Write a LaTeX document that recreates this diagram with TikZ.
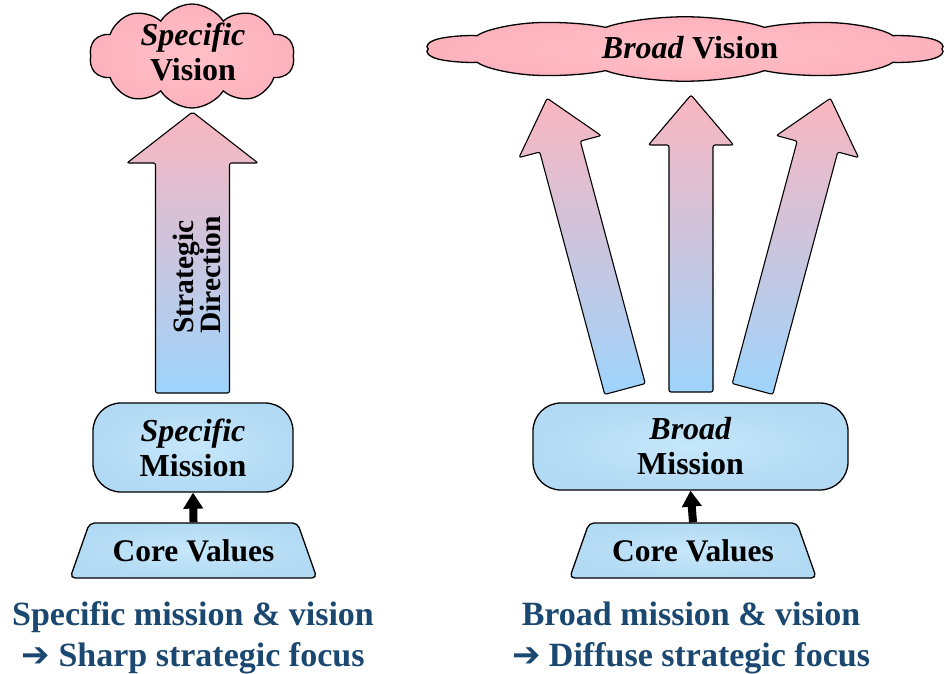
\documentclass[tikz,border=0pt]{standalone}
\usepackage{fontspec}
\setmainfont{Liberation Serif}
\newfontfamily\symfont{DejaVu Sans}
\usetikzlibrary{shapes.symbols,shapes.geometric,arrows.meta}

\definecolor{cloudpink}{RGB}{253,178,188}
\definecolor{cloudpinklight}{RGB}{255,192,200}
\definecolor{boxblue}{RGB}{178,218,244}
\definecolor{boxbluelight}{RGB}{198,231,251}
\definecolor{arrowtop}{RGB}{250,182,192}
\definecolor{arrowbottom}{RGB}{158,212,252}
\definecolor{captionblue}{RGB}{27,72,112}

\tikzset{
  outline/.style={draw=black, line width=1.3pt},
  visioncloud/.style={outline, cloud, cloud puffs=10, cloud puff arc=115,
    cloud ignores aspect, inner sep=0pt, minimum width=205pt, minimum height=104pt,
    inner color=cloudpinklight, outer color=cloudpink},
  missionbox/.style={outline, rectangle, rounded corners=28pt, inner sep=0pt,
    inner color=boxbluelight, outer color=boxblue},
  valuesbox/.style={outline, trapezium, trapezium angle=56,
    trapezium stretches=true, rounded corners=5pt, inner sep=0pt,
    minimum width=247pt, minimum height=55pt,
    inner color=boxbluelight, outer color=boxblue,
    font=\fontsize{31.5}{34}\selectfont\bfseries},
  boxtext/.style={align=center, font=\fontsize{32}{35}\selectfont\bfseries},
  captiontext/.style={align=center, text=captionblue,
    font=\fontsize{34}{41}\selectfont\bfseries},
  linkarrow/.style={line width=8pt, -{Triangle[length=16pt, width=19pt]}},
  arrowbody/.style={outline, line width=1.1pt, rounded corners=2pt,
    top color=arrowtop, bottom color=arrowbottom},
  % broad upward arrow: shaft half width, head half width, length, head length
  pics/fatarrow/.style n args={4}{code={
    \path[arrowbody] (-#1,0) -- (#1,0) -- (#1,-#3+#4) -- (#2,-#3+#4)
      -- (0,-#3) -- (-#2,-#3+#4) -- (-#1,-#3+#4) -- cycle;
  }},
}

\begin{document}
\begin{tikzpicture}[x=1pt, y=-1pt]
\useasboundingbox (0,0) rectangle (950,674);

% ---------- left column: specific mission and vision ----------
\node[visioncloud] (visionL) at (192,56) {};
\node[boxtext] (visionLtext) at (193,52) {\textit{Specific}\\Vision};

\pic at (192.5,393) {fatarrow={37}{65.5}{281}{51}};
\node[boxtext, rotate=90, align=left, font=\fontsize{29.5}{27}\selectfont\bfseries]
  (direction) at (197,275) {Strategic\\Direction};

\node[missionbox, minimum width=200pt, minimum height=89pt] (missionL) at (193,447.5) {};
\node[boxtext] (missionLtext) at (missionL) {\textit{Specific}\\Mission};

\node[valuesbox] (valuesL) at (193.5,550.5) {Core Values};
\draw[linkarrow] (valuesL.north) -- (missionL.south);

\node[captiontext] (captionL) at (193,638) {Specific mission \& vision\\{\symfont ➔} Sharp strategic focus};

% ---------- right column: broad mission and vision ----------
\begin{scope}[shift={(685,49)}, xscale=2.537, yscale=0.62]
  \node[visioncloud, transform shape] (visionR) at (0,0) {};
\end{scope}
\node[boxtext] (visionRtext) at (690,48) {\textit{Broad} Vision};

\pic[rotate=15] at (625,389) {fatarrow={21}{42.5}{301}{50}};
\pic at (691,392) {fatarrow={22}{42.5}{297}{50}};
\pic[rotate=-15] at (752.5,389) {fatarrow={21}{42.5}{301}{50}};

\node[missionbox, minimum width=315pt, minimum height=87pt] (missionR) at (690.5,446.5) {};
\node[boxtext] (missionRtext) at (missionR) {\textit{Broad}\\Mission};

\node[valuesbox] (valuesR) at (693,550.5) {Core Values};
\draw[linkarrow] (valuesR.north) -- (missionR.south);

\node[captiontext] (captionR) at (691,638) {Broad mission \& vision\\{\symfont ➔} Diffuse strategic focus};
\end{tikzpicture}
\end{document}
